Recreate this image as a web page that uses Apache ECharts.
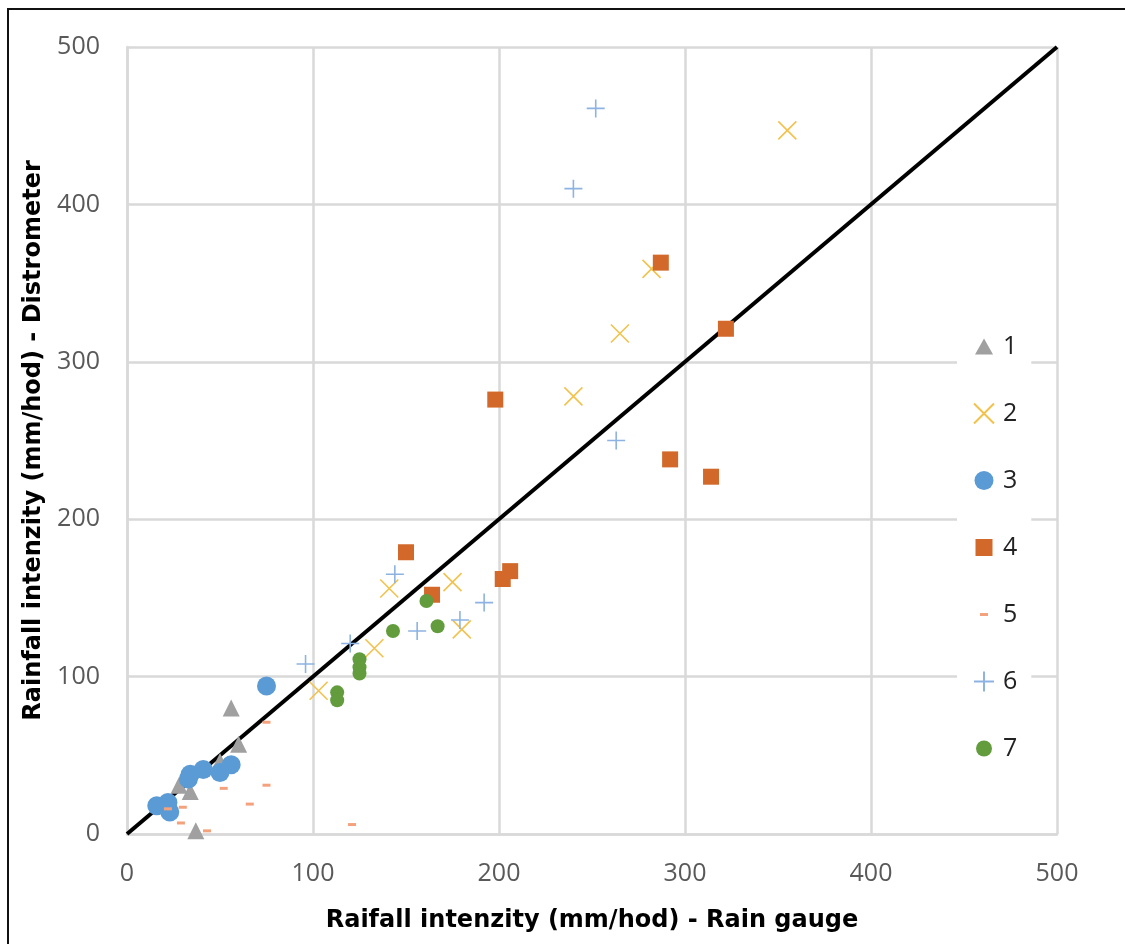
<!DOCTYPE html>
<html>
<head>
<meta charset="utf-8">
<script src="https://cdn.jsdelivr.net/npm/echarts@6/dist/echarts.min.js"></script>
<style>
	html, body { margin: 0; padding: 0; background: #fff; }
	#chart { width: 1125px; height: 944px; }
</style>
</head>
<body>
<div id="chart"></div>
<script>
// data: [rain gauge, distrometer]
const axisTicks = [0, 100, 200, 300, 400, 500];
const s1 = [[28, 31], [34, 27], [37, 2], [50, 46], [56, 80], [60, 57]];
const s2 = [[103, 91], [133, 118], [141, 156], [175, 160], [180, 130], [240, 278], [265, 318], [282, 359], [355, 447]];
const s3 = [[16, 18], [22, 20], [23, 14], [33, 35], [34, 38], [41, 41], [50, 39], [56, 44], [75, 94]];
const s4 = [[150, 179], [164, 152], [198, 276], [202, 162], [206, 167], [287, 363], [292, 238], [314, 227], [322, 321]];
const s5 = [[22, 16], [29, 7], [30, 17], [43, 2], [52, 29], [66, 19], [75, 31], [75, 71], [121, 6]];
const s6 = [[96, 108], [120, 121], [144, 165], [156, 129], [179, 136], [192, 147], [240, 410], [252, 461], [263, 250]];
const s7 = [[113, 90], [113, 85], [125, 111], [125, 106], [125, 102], [143, 129], [161, 148], [167, 132]];
const diagonal = [[0, 0], [500, 500]];
const seriesNames = ['1', '2', '3', '4', '5', '6', '7'];

const xPath = 'path://M0,0L10,10M10,0L0,10';
const plusPath = 'path://M5,0L5,10M0,5L10,5';

// legend icons drawn in a 28x20 box (corner points keep the box size)
const box = 'path://M0,0L0,0M28,20L28,20';
const legendIcons = [
	box + 'M5,18L14,2L23,18Z',
	box + 'M4,0L24,20M24,0L4,20',
	box + 'M4.5,10a9.5,9.5 0 1,0 19,0a9.5,9.5 0 1,0 -19,0Z',
	box + 'M5.5,1.5h17v17h-17Z',
	box + 'M10,8.5h8v3h-8Z',
	box + 'M14,0L14,20M4,10L24,10',
	box + 'M6,10a8,8 0 1,0 16,0a8,8 0 1,0 -16,0Z',
];

let myChart = echarts.init(document.getElementById('chart'));

const axisCommon = {
	type: 'value',
	min: 0,
	max: 500,
	interval: 100,
	nameLocation: 'middle',
	nameTextStyle: { fontFamily: 'DejaVu Sans', fontWeight: 'bold', fontSize: 24, color: '#000' },
	axisLine: { show: true, lineStyle: { color: '#D9D9D9', width: 2.5 } },
	axisTick: { show: false },
	splitLine: { show: true, lineStyle: { color: '#D9D9D9', width: 2.5 } },
	axisLabel: { fontFamily: 'Open Sans', fontSize: 25, color: '#595959' },
};

let option = {
	animation: false,
	backgroundColor: '#fff',
	grid: { left: 127, right: 68, top: 47, bottom: 110 },
	graphic: [{
		type: 'rect',
		shape: { x: 8, y: 9, width: 1300, height: 1100 },
		style: { fill: 'none', stroke: '#111', lineWidth: 2 },
		silent: true,
	}],
	legend: {
		orient: 'vertical',
		left: 957,
		top: 324,
		padding: [10, 14, 10, 12],
		backgroundColor: '#fff',
		itemWidth: 28,
		itemHeight: 20,
		itemGap: 42,
		textStyle: { fontFamily: 'Open Sans', fontSize: 25, color: '#222', lineHeight: 24 },
		data: seriesNames.map((n, i) => ({ name: n, icon: legendIcons[i] })),
	},
	xAxis: Object.assign({}, axisCommon, {
		name: 'Raifall intenzity (mm/hod) - Rain gauge',
		nameGap: 75,
		axisLabel: Object.assign({}, axisCommon.axisLabel, { margin: 27 }),
	}),
	yAxis: Object.assign({}, axisCommon, {
		name: 'Rainfall intenzity (mm/hod) - Distrometer',
		nameGap: 78,
		axisLabel: Object.assign({}, axisCommon.axisLabel, { margin: 27 }),
	}),
	series: [
		{
			name: 'diag',
			type: 'line',
			data: diagonal,
			symbol: 'none',
			lineStyle: { color: '#000', width: 4 },
			z: 1,
		},
		{ name: '1', type: 'scatter', data: s1, symbol: 'triangle', symbolSize: 17, itemStyle: { color: '#A0A0A0', opacity: 1 }, z: 3 },
		{ name: '2', type: 'scatter', data: s2, symbol: xPath, symbolSize: 18, itemStyle: { color: 'transparent', borderColor: '#F2C24C', borderWidth: 1.6, opacity: 1 }, z: 3 },
		{ name: '3', type: 'scatter', data: s3, symbol: 'circle', symbolSize: 19, itemStyle: { color: '#5B9BD5', opacity: 1 }, z: 3 },
		{ name: '4', type: 'scatter', data: s4, symbol: 'rect', symbolSize: 16, itemStyle: { color: '#D2692B', opacity: 1 }, z: 3 },
		{ name: '5', type: 'scatter', data: s5, symbol: 'rect', symbolSize: [8, 3], itemStyle: { color: '#F4A27E', opacity: 1 }, z: 3 },
		{ name: '6', type: 'scatter', data: s6, symbol: plusPath, symbolSize: 18, itemStyle: { color: 'transparent', borderColor: '#8DB3E2', borderWidth: 1.6, opacity: 1 }, z: 3 },
		{ name: '7', type: 'scatter', data: s7, symbol: 'circle', symbolSize: 14, itemStyle: { color: '#629C3D', opacity: 1 }, z: 3 },
	],
};

myChart.setOption(option, true);
window.addEventListener('resize', () => {
	myChart.resize();
});
</script>
</body>
</html>
